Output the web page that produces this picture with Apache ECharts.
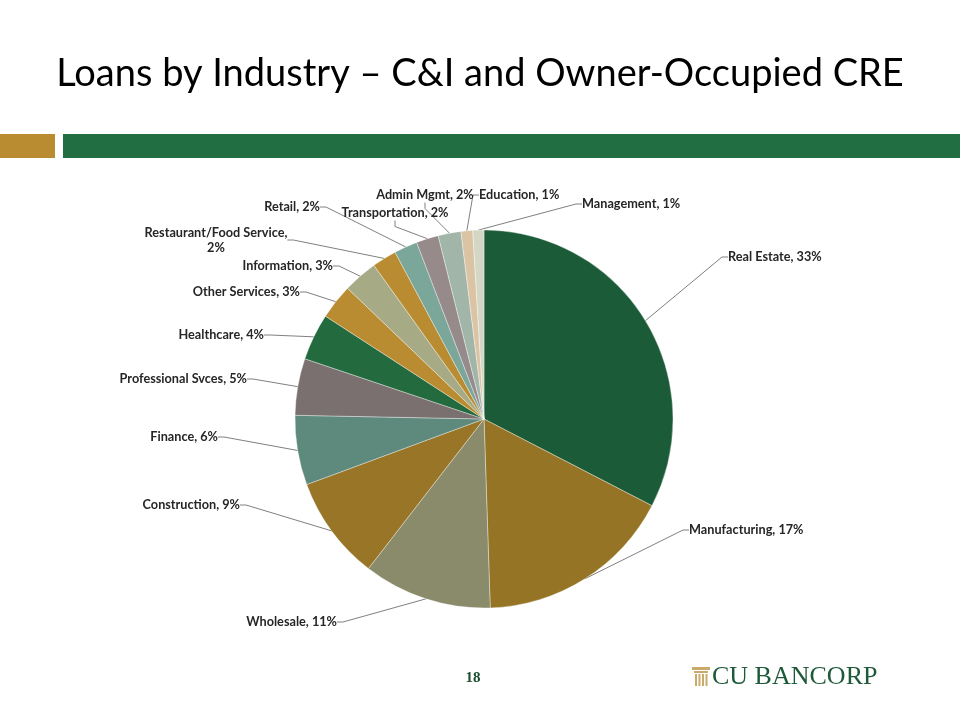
<!DOCTYPE html>
<html>
<head>
<meta charset="utf-8">
<script src="https://cdn.jsdelivr.net/npm/echarts@6/dist/echarts.min.js"></script>
<style>
html,body{margin:0;padding:0;background:#fff;}
#chart{width:960px;height:720px;}
</style>
</head>
<body>
<div id="chart"></div>
<script>
// ---- data ----
const categories = ['Real Estate','Manufacturing','Wholesale','Construction','Finance','Professional Svces','Healthcare','Other Services','Information','Restaurant/Food Service','Retail','Transportation','Admin Mgmt','Education','Management'];
const values = [32.6, 16.9, 11.0, 8.9, 5.95, 4.85, 4.0, 3.0, 2.95, 2.1, 2.0, 1.9, 1.95, 1.0, 0.95];
const percentLabels = ['33%','17%','11%','9%','6%','5%','4%','3%','3%','2%','2%','2%','2%','1%','1%'];
const sliceColors = ['#1C5B37','#967425','#898B6B','#987527','#5E897D','#7A7070','#236B3F','#B98C31','#A6AA85','#B98C31','#7BA79A','#968A8B','#A2B5A9','#DBC4A4','#D3D7C4'];

// ---- label layout (positions of text boxes only) ----
const labelPos = [
  {x:728, y:257, align:'left'},
  {x:689, y:530, align:'left'},
  {x:337, y:622, align:'right'},
  {x:240, y:505, align:'right'},
  {x:218, y:437, align:'right'},
  {x:247, y:379, align:'right'},
  {x:264, y:335, align:'right'},
  {x:300, y:292, align:'right'},
  {x:333, y:266, align:'right'},
  {x:216, y:240, align:'center'},
  {x:320, y:207, align:'right'},
  {x:395, y:213, align:'center'},
  {x:425, y:195, align:'center'},
  {x:479, y:195, align:'left'},
  {x:582, y:204, align:'left'}
];

const chart = echarts.init(document.getElementById('chart'), null, {renderer:'canvas'});
const labelText = (i) => {
  const name = categories[i];
  if (name === 'Restaurant/Food Service') return 'Restaurant/Food Service,\n' + percentLabels[i];
  return name + ', ' + percentLabels[i];
};

chart.setOption({
  animation: false,
  backgroundColor: '#ffffff',
  title: {
    text: 'Loans by Industry – C&I and Owner-Occupied CRE',
    left: 'center',
    top: 50,
    textStyle: {fontFamily: 'Lato', fontSize: 38, fontWeight: 'normal', color: '#000'}
  },
  graphic: [
    {type:'rect', shape:{x:0, y:134, width:55, height:24}, style:{fill:'#B98C31'}},
    {type:'rect', shape:{x:63, y:134, width:897, height:24}, style:{fill:'#216E42'}},
    {type:'text', x:473, y:678, style:{text:'18', fill:'#1B4D2E', font:'bold 15px "Liberation Serif"', textAlign:'center', textVerticalAlign:'middle'}},
    {type:'text', x:712, y:677, style:{text:'CU BANCORP', fill:'#1E5A3A', font:'26px "Liberation Serif"', textAlign:'left', textVerticalAlign:'middle'}},
    {type:'group', children:[
      {type:'rect', shape:{x:692, y:667, width:18, height:3}, style:{fill:'#C9AA6B'}},
      {type:'rect', shape:{x:694, y:671, width:14, height:2}, style:{fill:'#C9AA6B'}},
      {type:'rect', shape:{x:695, y:674, width:2, height:12}, style:{fill:'#C9AA6B'}},
      {type:'rect', shape:{x:698.5, y:674, width:2, height:12}, style:{fill:'#C9AA6B'}},
      {type:'rect', shape:{x:702, y:674, width:2, height:12}, style:{fill:'#C9AA6B'}},
      {type:'rect', shape:{x:705.5, y:674, width:2, height:12}, style:{fill:'#C9AA6B'}}
    ]}
  ],
  series: [{
    type: 'pie',
    center: [484, 419],
    radius: [0, 189],
    startAngle: 90,
    clockwise: true,
    avoidLabelOverlap: false,
    data: categories.map((c, i) => ({name: c, value: values[i], itemStyle: {color: sliceColors[i]}})),
    itemStyle: {borderColor: 'rgba(255,255,255,0.45)', borderWidth: 0.8},
    label: {
      show: true,
      position: 'outside',
      formatter: (p) => labelText(p.dataIndex),
      fontFamily: 'Lato',
      fontSize: 12.7,
      fontWeight: 'bold',
      color: '#262626',
      lineHeight: 15,
      align: 'center'
    },
    labelLine: {show: true, length: 10, length2: 6, lineStyle: {color: '#808080', width: 1}},
    labelLayout: function (params) {
      const p = labelPos[params.dataIndex];
      return {x: p.x, y: p.y, align: p.align, verticalAlign: 'middle'};
    },
    emphasis: {disabled: true}
  }]
});
</script>
</body>
</html>
